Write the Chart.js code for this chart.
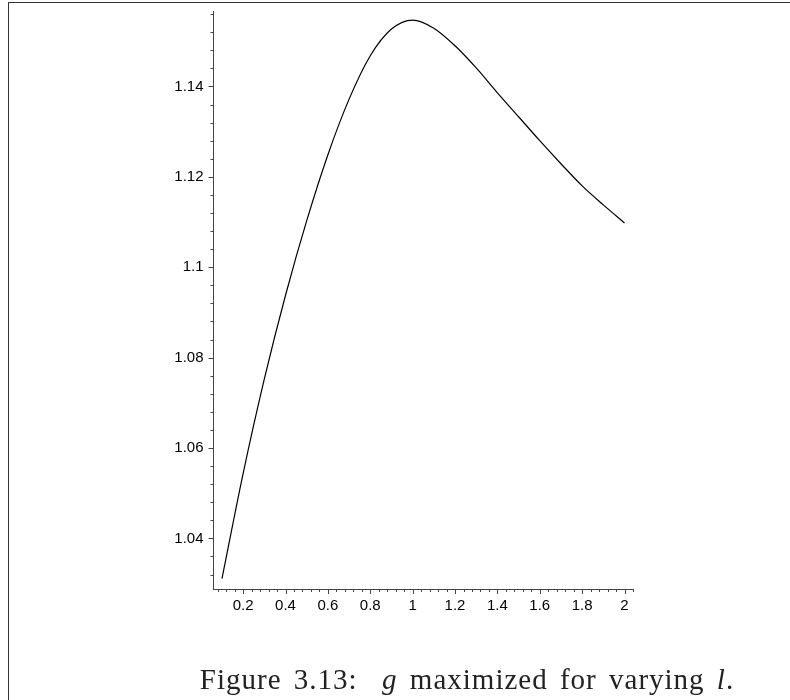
<!DOCTYPE html>
<html>
<head>
<meta charset="utf-8">
<script src="https://cdn.jsdelivr.net/npm/chart.js@4/dist/chart.umd.min.js"></script>
<style>
  body { margin: 0; background: #fff; }
  #wrap { position: relative; width: 790px; height: 700px; overflow: hidden; }
  #plot { position: absolute; left: 0; top: 0; }
  #frameTop { position: absolute; left: 8px; top: 2px; width: 782px; height: 0; border-top: 1.5px solid #333; }
  #frameLeft { position: absolute; left: 7.5px; top: 2px; width: 0; height: 698px; border-left: 1.5px solid #333; }
  #caption {
    position: absolute; left: 117px; top: 665px; width: 700px;
    text-align: center; font-family: "Liberation Serif", "DejaVu Serif", serif;
    font-size: 29px; line-height: 29px; color: #222;
    letter-spacing: 1px; word-spacing: 4px;
  }
</style>
</head>
<body>
<div id="wrap">
  <div id="frameTop"></div>
  <div id="frameLeft"></div>
  <canvas id="plot" width="790" height="700"></canvas>
  <div id="caption">Figure 3.13:&nbsp; <i>g</i> maximized for varying <i>l</i>.</div>
</div>
<script>
// values
const lValues = [0.1, 0.2, 0.3, 0.4, 0.5, 0.6, 0.7, 0.8, 0.9, 1.0,
                 1.1, 1.2, 1.3, 1.4, 1.5, 1.6, 1.7, 1.8, 1.9, 2.0];
const gValues = [1.0311, 1.0544, 1.0753, 1.0938, 1.1103, 1.1249, 1.1372, 1.1468, 1.1527, 1.1547,
                 1.1529, 1.1490, 1.1441, 1.1386, 1.1333, 1.1280, 1.1229, 1.1180, 1.1138, 1.1098];

const xTickLabels = ['0.2', '0.4', '0.6', '0.8', '1', '1.2', '1.4', '1.6', '1.8', '2'];
const yTickLabels = ['1.04', '1.06', '1.08', '1.1', '1.12', '1.14'];
const xMinorStep = 0.04;
const yMinorStep = 0.004;

function stepTicks(axis, step) {
    const ticks = [];
    for (let k = Math.ceil(axis.min / step - 1e-9); k * step <= axis.max + 1e-9; k++) {
        ticks.push({ value: Math.round(k * step * 10000) / 10000 });
    }
    axis.ticks = ticks;
}

function labelFor(list, v) {
    const hit = list.find(l => Math.abs(parseFloat(l) - v) < 1e-6);
    return hit || '';
}

// tick marks: long for labelled ticks, short for the others
const tickMarks = {
    id: 'tickMarks',
    afterDraw(chart) {
        const ctx = chart.ctx;
        const xs = chart.scales.x, ys = chart.scales.y;
        ctx.save();
        ctx.strokeStyle = '#444';
        ctx.lineWidth = 1;
        ctx.beginPath();
        xs.ticks.forEach(t => {
            const px = Math.round(xs.getPixelForValue(t.value)) + 0.5;
            const len = t.label ? 5 : 3;
            ctx.moveTo(px, xs.top);
            ctx.lineTo(px, xs.top + len);
        });
        ys.ticks.forEach(t => {
            const py = Math.round(ys.getPixelForValue(t.value)) + 0.5;
            const len = t.label ? 5 : 3;
            ctx.moveTo(ys.right, py);
            ctx.lineTo(ys.right - len, py);
        });
        ctx.stroke();
        ctx.restore();
    }
};

new Chart(document.getElementById('plot').getContext('2d'), {
    type: 'line',
    data: {
        labels: lValues,
        datasets: [{
            data: lValues.map((l, i) => ({ x: l, y: gValues[i] })),
            borderColor: '#000',
            borderWidth: 1.2,
            pointRadius: 0,
            fill: false,
            cubicInterpolationMode: 'monotone'
        }]
    },
    options: {
        responsive: false,
        animation: false,
        layout: { padding: { left: 0, top: 2, right: 157, bottom: 81 } },
        plugins: { legend: { display: false }, tooltip: { enabled: false } },
        scales: {
            x: {
                type: 'linear',
                min: 0.06,
                max: 2.04,
                afterBuildTicks: axis => stepTicks(axis, xMinorStep),
                afterFit: axis => { axis.height = 30; },
                grid: { display: false },
                border: { display: true, color: '#444', width: 1 },
                ticks: {
                    autoSkip: false,
                    maxRotation: 0,
                    padding: 0,
                    color: '#000',
                    font: { family: '"Liberation Sans", Arial, sans-serif', size: 15 },
                    callback: v => labelFor(xTickLabels, v)
                }
            },
            y: {
                min: 1.0288,
                max: 1.1567,
                afterBuildTicks: axis => stepTicks(axis, yMinorStep),
                afterFit: axis => { axis.width = 213.5; },
                grid: { display: false },
                border: { display: true, color: '#444', width: 1 },
                ticks: {
                    autoSkip: false,
                    padding: 2,
                    color: '#000',
                    font: { family: '"Liberation Sans", Arial, sans-serif', size: 15 },
                    callback: v => labelFor(yTickLabels, v)
                }
            }
        }
    },
    plugins: [tickMarks]
});
</script>
</body>
</html>
